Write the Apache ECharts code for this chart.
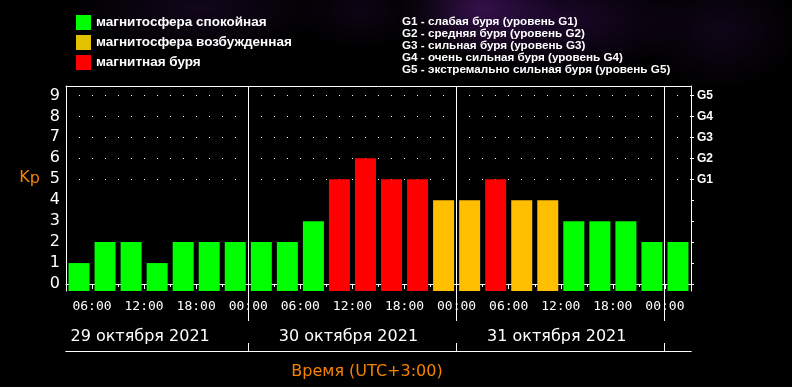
<!DOCTYPE html>
<html><head><meta charset="utf-8">
<script src="https://cdn.jsdelivr.net/npm/echarts@6/dist/echarts.min.js"></script>
<style>
html,body{margin:0;padding:0;background:#000;}
#c{width:792px;height:387px;background:
 radial-gradient(ellipse 80px 50px at 480px 8px, rgba(80,25,115,0.6), rgba(0,0,0,0)),
 radial-gradient(ellipse 130px 55px at 560px 20px, rgba(55,15,85,0.5), rgba(0,0,0,0)),
 radial-gradient(ellipse 130px 45px at 200px 8px, rgba(45,15,70,0.4), rgba(0,0,0,0)),
 radial-gradient(ellipse 80px 60px at 720px 30px, rgba(45,15,70,0.35), rgba(0,0,0,0)),
 radial-gradient(ellipse 60px 40px at 360px 10px, rgba(40,12,60,0.35), rgba(0,0,0,0)),
 #000;}
</style></head><body><div id="c"></div>
<script>
// 3-hour slots (start time of each slot)
const categories = [
  '29.10 03:00','29.10 06:00','29.10 09:00','29.10 12:00','29.10 15:00','29.10 18:00','29.10 21:00',
  '30.10 00:00','30.10 03:00','30.10 06:00','30.10 09:00','30.10 12:00','30.10 15:00','30.10 18:00','30.10 21:00',
  '31.10 00:00','31.10 03:00','31.10 06:00','31.10 09:00','31.10 12:00','31.10 15:00','31.10 18:00','31.10 21:00',
  '01.11 00:00'
];
const kpValues = [1,2,2,1,2,2,2, 2,2,3,5,6,5,5,4, 4,5,4,4,3,3,3,2, 2];
const timeTickLabels = ['06:00','12:00','18:00','00:00','06:00','12:00','18:00','00:00','06:00','12:00','18:00','00:00'];
const dayLabels = ['29 октября 2021','30 октября 2021','31 октября 2021'];
const yTickValues = [0,1,2,3,4,5,6,7,8,9];
const gValues = [5,6,7,8,9];
const gLabels = ['G1','G2','G3','G4','G5'];
const gLegend = [
  'G1 - слабая буря (уровень G1)',
  'G2 - средняя буря (уровень G2)',
  'G3 - сильная буря (уровень G3)',
  'G4 - очень сильная буря (уровень G4)',
  'G5 - экстремально сильная буря (уровень G5)'
];
const statusNames = ['магнитосфера спокойная','магнитосфера возбужденная','магнитная буря'];
const barColors = ['#00ff00','#ffbf00','#ff0000'];
const legendColors = ['#00ff00','#e1c100','#ff0000'];

const status = v => v >= 5 ? 2 : (v === 4 ? 1 : 0);
const dayStartIdx = categories.map((c,i)=>c.endsWith('00:00')?i:-1).filter(i=>i>=0);
const dayLabelIdx = categories.map((c,i)=>c.endsWith('09:00')?i:-1).filter(i=>i>=0);

const Y_MIN = -1/3, Y_MAX = 9.45;
const white = '#ffffff';
const orange = '#f58200';

const catBase = {type:'category', data:categories, boundaryGap:true};

function crisp(x){ return Math.round(x - 0.5) + 0.5; }

const chart = echarts.init(document.getElementById('c'), null, {renderer:'canvas'});
chart.setOption({
  backgroundColor:'transparent',
  animation:false,
  title:{
    text: gLegend.join('\n'),
    left: 402, top: 16, padding:0,
    textStyle:{color:white, fontFamily:'Liberation Sans', fontWeight:'bold', fontSize:11.7, lineHeight:12}
  },
  legend:{
    left: 76, top: 15, padding:0, orient:'vertical', itemWidth:15, itemHeight:15, itemGap:5,
    icon:'rect',
    data: statusNames.map((n,i)=>({name:n, itemStyle:{color:legendColors[i]}})),
    textStyle:{color:white, fontFamily:'Liberation Sans', fontWeight:'bold', fontSize:13.5}
  },
  grid:[
    {left:66, right:101, top:86, bottom:96},
    {left:66, right:101, top:322, bottom:36}
  ],
  xAxis:[
    Object.assign({}, catBase, {gridIndex:0, position:'bottom',
      axisLine:{show:true, lineStyle:{color:white, width:1}},
      axisTick:{show:true, length:3, interval:0, lineStyle:{color:white}},
      axisLabel:{show:false}, splitLine:{show:false}
    }),
    Object.assign({}, catBase, {gridIndex:0, position:'bottom',
      axisLine:{show:false},
      axisTick:{show:true, length:5, interval:(i)=>i%2===1, lineStyle:{color:white}},
      axisLabel:{show:true, interval:(i)=>i%2===0, formatter:(v,i)=>timeTickLabels[i/2]||'',
        padding:[0,0,0,26], margin:9, color:white, fontFamily:'DejaVu Sans Mono', fontSize:13},
      splitLine:{show:false}
    }),
    Object.assign({}, catBase, {gridIndex:0, position:'top',
      axisLine:{show:true, lineStyle:{color:white}}, axisTick:{show:false}, axisLabel:{show:false}, splitLine:{show:false}
    }),
    Object.assign({}, catBase, {gridIndex:1, position:'top',
      axisLine:{show:true, lineStyle:{color:white}}, axisTick:{show:false}, axisLabel:{show:false}, splitLine:{show:false}
    }),
    Object.assign({}, catBase, {gridIndex:1, position:'bottom',
      axisLine:{show:true, lineStyle:{color:white}},
      axisTick:{show:false},
      axisLabel:{show:true, inside:true, interval:(i)=>dayLabelIdx.includes(i),
        formatter:(v,i)=>dayLabels[dayLabelIdx.indexOf(i)]||'',
        padding:[0,8,0,26], margin:6, color:white, fontFamily:'DejaVu Sans', fontSize:16},
      splitLine:{show:false},
      name:'Время (UTC+3:00)', nameLocation:'middle', nameGap:13,
      nameTextStyle:{color:orange, fontFamily:'DejaVu Sans', fontSize:16, padding:[0,23,0,0]}
    })
  ],
  yAxis:[
    {type:'value', gridIndex:0, position:'left', min:Y_MIN, max:Y_MAX, startValue:Y_MIN,
      axisLine:{show:true, lineStyle:{color:white}}, axisTick:{show:false},
      axisLabel:{show:true, customValues:yTickValues, margin:6, color:white, fontFamily:'DejaVu Sans', fontSize:16},
      splitLine:{show:false},
      name:'{k|K}{p|p}', nameLocation:'middle', nameRotate:0, nameGap:26,
      nameTextStyle:{color:orange, fontFamily:'DejaVu Sans', fontSize:16, padding:[0,0,22,0],
        rich:{k:{color:orange, fontFamily:'DejaVu Sans', fontSize:16},
              p:{color:orange, fontFamily:'DejaVu Sans', fontSize:16, padding:[3,0,0,0]}}}
    },
    {type:'value', gridIndex:0, position:'right', min:Y_MIN, max:Y_MAX,
      axisLine:{show:true, lineStyle:{color:white}},
      axisTick:{show:true, customValues:yTickValues, length:3, lineStyle:{color:white}},
      axisLabel:{show:true, customValues:gValues, formatter:(v)=>gLabels[gValues.indexOf(v)]||'',
        margin:6, color:white, fontFamily:'Liberation Sans', fontWeight:'bold', fontSize:12},
      splitLine:{show:false}
    },
    {type:'value', gridIndex:1, show:false, min:0, max:1}
  ],
  series: [
    {type:'line', name:'grid', xAxisIndex:0, yAxisIndex:0, data:[], z:1, silent:true,
      markLine:{silent:true, z:1, symbol:['none','none'], label:{show:false},
        lineStyle:{color:white, width:1, type:[1,12], dashOffset:0},
        data: gValues.map(v=>({yAxis:v}))}
    },
    // day separators: through the plot and down past the time labels
    {type:'custom', name:'days', xAxisIndex:0, yAxisIndex:0, clip:false, silent:true, z:3,
      data: dayStartIdx.map(i=>[i]),
      renderItem:(params, api)=>{
        const half = api.size([1,0])[0]/2;
        const top = api.coord([api.value(0), Y_MAX]);
        const bot = api.coord([api.value(0), Y_MIN]);
        const x = crisp(top[0]-half);
        return {type:'line', shape:{x1:x, y1:top[1], x2:x, y2:bot[1]+30},
          style:{stroke:white, lineWidth:1}};
      }
    },
    // day separators in the date row
    {type:'custom', name:'days2', xAxisIndex:4, yAxisIndex:2, clip:false, silent:true, z:3,
      data: dayStartIdx.map(i=>[i]),
      renderItem:(params, api)=>{
        const half = api.size([1,0])[0]/2;
        const bot = api.coord([api.value(0), 0]);
        const x = crisp(bot[0]-half);
        return {type:'line', shape:{x1:x, y1:bot[1]-8, x2:x, y2:bot[1]},
          style:{stroke:white, lineWidth:1}};
      }
    }
  ].concat(statusNames.map((name,s)=>({
    type:'bar', name, xAxisIndex:0, yAxisIndex:0, z:2,
    barWidth:21, barGap:'-100%',
    itemStyle:{color:barColors[s]},
    data: kpValues.map(v => status(v)===s ? v : null)
  })))
});
</script></body></html>
